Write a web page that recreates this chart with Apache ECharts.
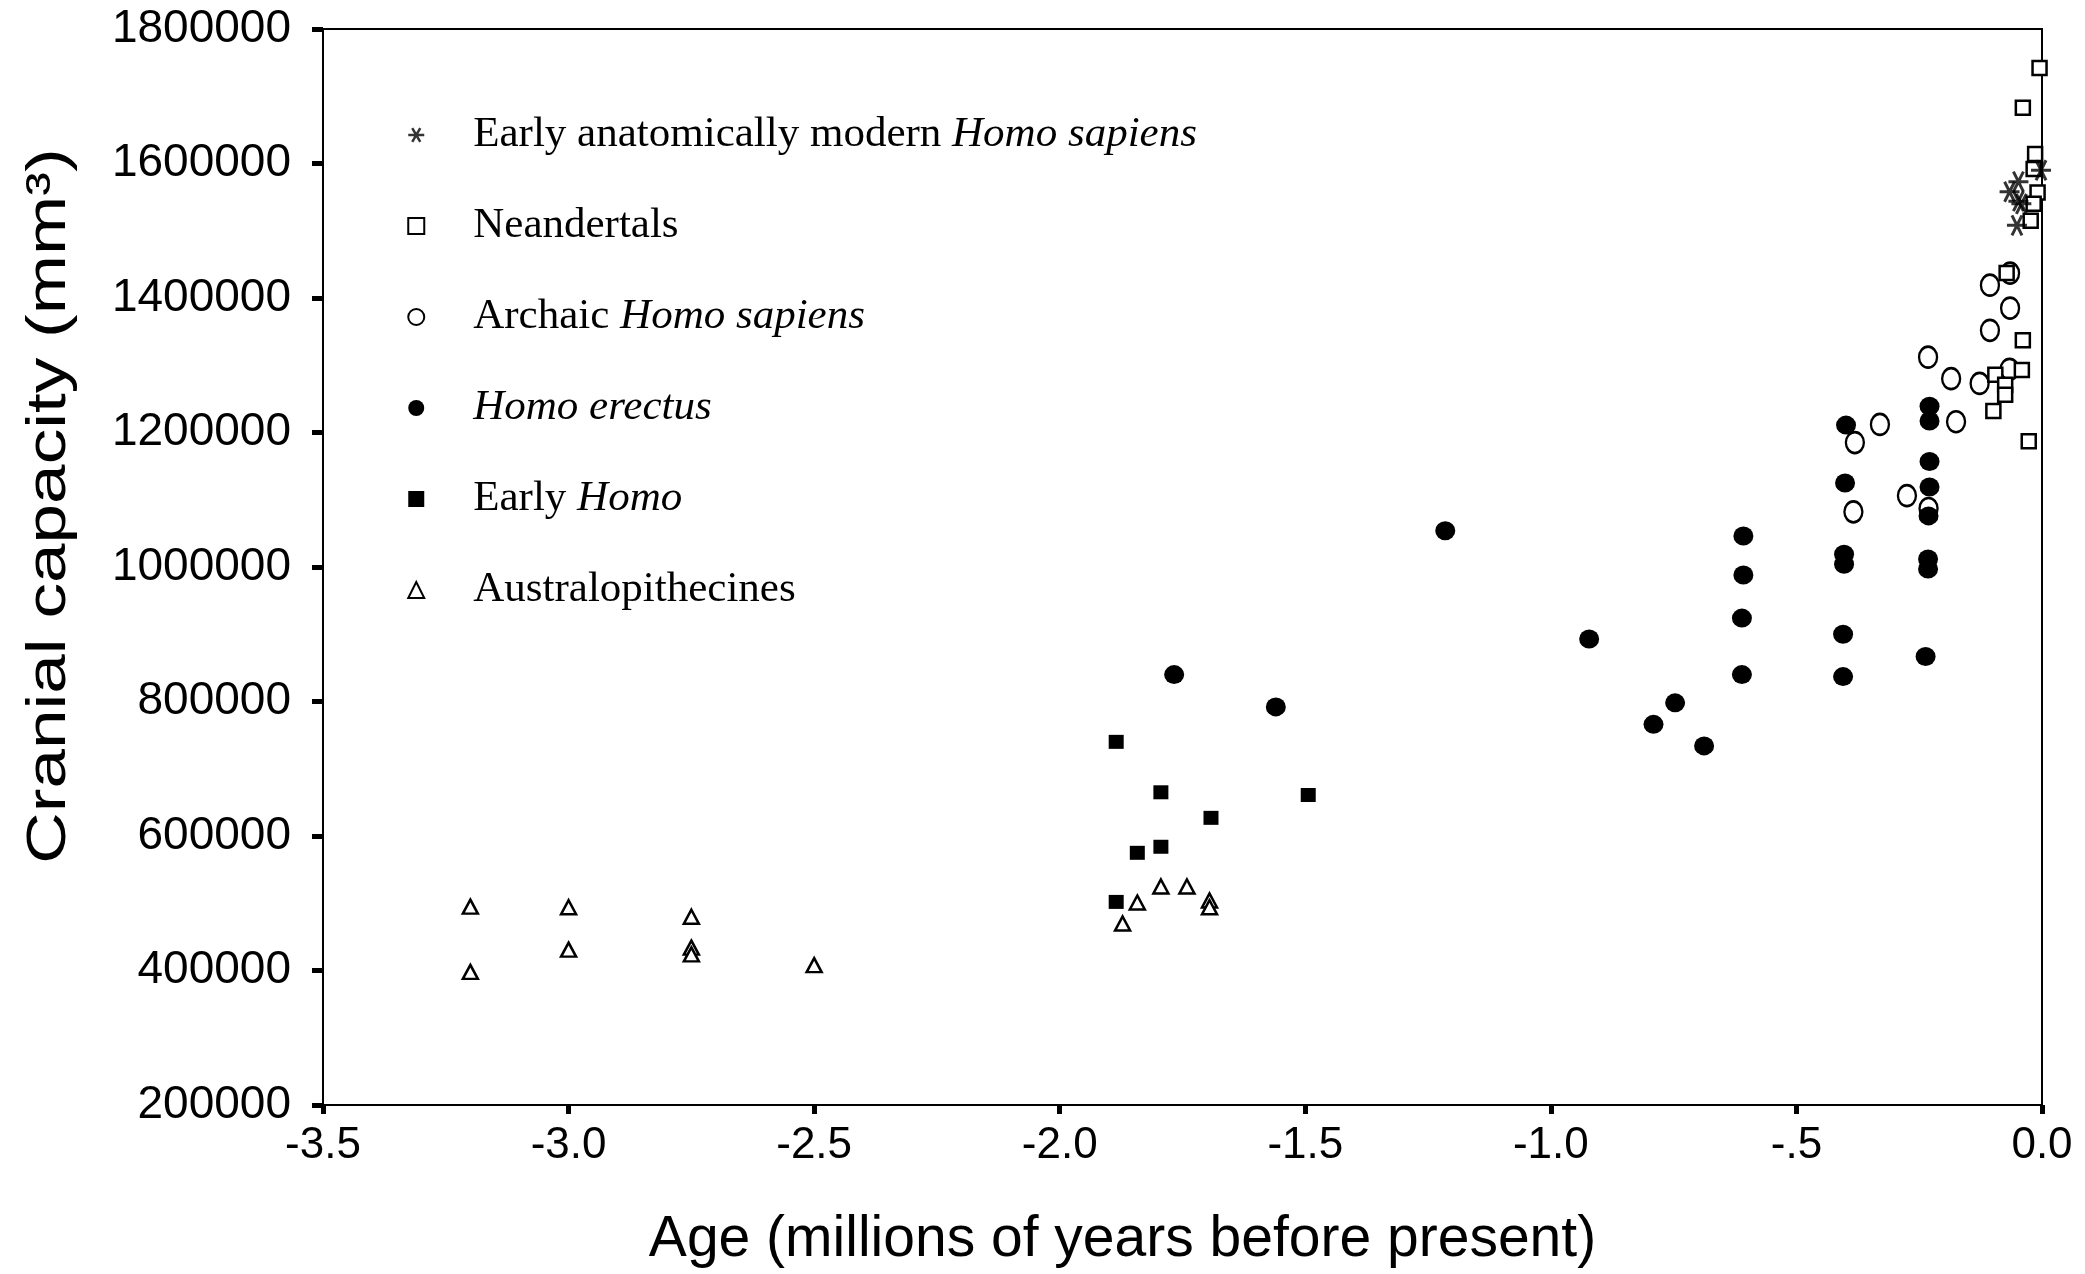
<!DOCTYPE html>
<html>
<head>
<meta charset="utf-8">
<script src="https://cdn.jsdelivr.net/npm/echarts@6/dist/echarts.min.js"></script>
<style>
html,body{margin:0;padding:0;background:#fff;}
#chart{width:2085px;height:1274px;}
</style>
</head>
<body>
<div id="chart"></div>
<script>
// ---- Data (age in millions of years BP, cranial capacity in mm3) ----
const earlyModern = [
  [-0.002, 1590000], [-0.048, 1573000], [-0.066, 1558000],
  [-0.048, 1544000], [-0.042, 1540000], [-0.051, 1508000]
];
const neandertals = [
  [-0.005, 1742000], [-0.039, 1683000], [-0.014, 1614000], [-0.017, 1592000],
  [-0.009, 1557000], [-0.017, 1540000], [-0.023, 1515000], [-0.072, 1437000],
  [-0.039, 1337000], [-0.041, 1293000], [-0.095, 1286000], [-0.075, 1271000],
  [-0.075, 1256000], [-0.099, 1232000], [-0.027, 1187000]
];
const archaic = [
  [-0.232, 1312000], [-0.185, 1280000], [-0.127, 1273000], [-0.175, 1216000],
  [-0.330, 1212000], [-0.381, 1185000], [-0.384, 1082000], [-0.275, 1106000],
  [-0.231, 1087000], [-0.106, 1419000], [-0.065, 1437000], [-0.065, 1385000],
  [-0.106, 1352000], [-0.066, 1294000]
];
const erectus = [
  [-1.767, 840000], [-1.560, 792000], [-1.215, 1054000], [-0.922, 893000],
  [-0.608, 1046000], [-0.608, 988000], [-0.611, 924000], [-0.611, 840000],
  [-0.747, 798000], [-0.791, 766000], [-0.688, 734000],
  [-0.399, 1211000], [-0.401, 1125000], [-0.403, 1019000], [-0.403, 1004000],
  [-0.405, 900000], [-0.405, 837000],
  [-0.229, 1239000], [-0.229, 1217000], [-0.229, 1157000], [-0.229, 1119000],
  [-0.231, 1076000], [-0.232, 1012000], [-0.232, 997000], [-0.237, 867000]
];
const earlyHomo = [
  [-1.885, 740000], [-1.794, 665000], [-1.692, 627000], [-1.842, 575000],
  [-1.794, 584000], [-1.885, 502000], [-1.494, 661000]
];
const australopithecines = [
  [-3.2, 495000], [-3.2, 398000], [-3.0, 494000], [-3.0, 431000],
  [-2.75, 480000], [-2.75, 434000], [-2.75, 424000], [-2.5, 408000],
  [-1.872, 470000], [-1.842, 501000], [-1.794, 525000], [-1.741, 525000],
  [-1.695, 504000], [-1.695, 494000]
];
const xTickLabels = ['-3.5', '-3.0', '-2.5', '-2.0', '-1.5', '-1.0', '-.5', '0.0'];
const yTickLabels = ['200000', '400000', '600000', '800000', '1000000', '1200000', '1400000', '1600000', '1800000'];

const seriesNames = ['Early anatomically modern Homo sapiens', 'Neandertals', 'Archaic Homo sapiens', 'Homo erectus', 'Early Homo', 'Australopithecines'];
const legendRich = {
  'Early anatomically modern Homo sapiens': '{s|}{r|Early anatomically modern }{i|Homo sapiens}',
  'Neandertals': '{s|}{r|Neandertals}',
  'Archaic Homo sapiens': '{s|}{r|Archaic }{i|Homo sapiens}',
  'Homo erectus': '{s|}{i|Homo erectus}',
  'Early Homo': '{s|}{r|Early }{i|Homo}',
  'Australopithecines': '{s|}{r|Australopithecines}'
};
const xTitle = 'Age (millions of years before present)';
const yTitle = 'Cranial capacity (mm\u00B3)';

const asteriskPath = 'path://M0,5 L10,5 M2.5,0.67 L7.5,9.33 M2.5,9.33 L7.5,0.67';
const SANS = '"Liberation Sans", Arial, Helvetica, sans-serif';
const SERIF = '"Liberation Serif", "Times New Roman", serif';

const chart = echarts.init(document.getElementById('chart'));
const openStyle = { color: '#ffffff', borderColor: '#000', borderWidth: 2.5, opacity: 1 };
const filledStyle = { color: '#000', borderWidth: 0, opacity: 1 };

const option = {
  backgroundColor: '#ffffff',
  animation: false,
  grid: { left: 323, right: 43, top: 29, bottom: 164, show: true, borderColor: '#000', borderWidth: 2, backgroundColor: 'transparent' },
  xAxis: {
    type: 'value', min: -3.5, max: 0, interval: 0.5,
    axisLine: { show: true, onZero: false, lineStyle: { color: '#000', width: 2 } },
    axisTick: { show: true, length: 9, lineStyle: { color: '#000', width: 5 } },
    splitLine: { show: false },
    axisLabel: {
      margin: 19, color: '#000', fontFamily: SANS, fontSize: 44,
      formatter: function (v) { return xTickLabels[Math.round((v + 3.5) / 0.5)]; }
    },
    name: xTitle, nameLocation: 'middle', nameGap: 107,
    nameTextStyle: { color: '#000', fontFamily: SANS, fontSize: 57, padding: [0, 120, 0, 0] }
  },
  yAxis: {
    type: 'value', min: 200000, max: 1800000, interval: 200000,
    axisLine: { show: true, onZero: false, lineStyle: { color: '#000', width: 2 } },
    axisTick: { show: true, length: 11, lineStyle: { color: '#000', width: 5 } },
    splitLine: { show: false },
    axisLabel: {
      margin: 32, color: '#000', fontFamily: SANS, fontSize: 46,
      formatter: function (v) { return yTickLabels[Math.round((v - 200000) / 200000)]; }
    }
  },
  legend: {
    orient: 'vertical', left: 402, top: 105, itemWidth: 16, itemHeight: 16, itemGap: 41,
    selectedMode: false,
    data: [
      { name: seriesNames[0], icon: asteriskPath, itemStyle: { color: 'rgba(0,0,0,0)', borderColor: '#000', borderWidth: 2.5 } },
      { name: seriesNames[1], icon: 'rect', itemStyle: { color: '#fff', borderColor: '#000', borderWidth: 2 } },
      { name: seriesNames[2], icon: 'circle', itemStyle: { color: '#fff', borderColor: '#000', borderWidth: 2 } },
      { name: seriesNames[3], icon: 'circle', itemStyle: { color: '#000', borderWidth: 0 } },
      { name: seriesNames[4], icon: 'rect', itemStyle: { color: '#000', borderWidth: 0 } },
      { name: seriesNames[5], icon: 'triangle', itemStyle: { color: '#fff', borderColor: '#000', borderWidth: 2 } }
    ],
    formatter: function (name) { return legendRich[name]; },
    textStyle: {
      color: '#000', fontFamily: SERIF, fontSize: 43, lineHeight: 50,
      rich: {
        s: { width: 44, height: 50 },
        r: { fontFamily: SERIF, fontSize: 43, lineHeight: 50, color: '#000' },
        i: { fontFamily: SERIF, fontSize: 43, lineHeight: 50, color: '#000', fontStyle: 'italic' }
      }
    }
  },
  graphic: [{
    type: 'text', x: 50, y: 506, rotation: Math.PI / 2, scaleX: 1.27,
    style: { text: yTitle, fontFamily: SANS, fontSize: 56, fill: '#000', align: 'center', verticalAlign: 'middle' }
  }],
  series: [
    { name: seriesNames[5], type: 'scatter', data: australopithecines, symbol: 'triangle', symbolSize: [15, 14], itemStyle: openStyle, z: 2 },
    { name: seriesNames[4], type: 'scatter', data: earlyHomo, symbol: 'rect', symbolSize: [15, 14], itemStyle: filledStyle, z: 2 },
    { name: seriesNames[2], type: 'scatter', data: archaic, symbol: 'circle', symbolSize: [18, 21], itemStyle: openStyle, z: 2 },
    { name: seriesNames[3], type: 'scatter', data: erectus, symbol: 'circle', symbolSize: [20, 19], itemStyle: filledStyle, z: 3 },
    { name: seriesNames[1], type: 'scatter', data: neandertals, symbol: 'rect', symbolSize: 14, itemStyle: openStyle, z: 4 },
    { name: seriesNames[0], type: 'scatter', data: earlyModern, symbol: asteriskPath, symbolSize: 20, itemStyle: { color: 'rgba(0,0,0,0)', borderColor: '#000', borderWidth: 3 }, z: 5 }
  ]
};
chart.setOption(option);
</script>
</body>
</html>
